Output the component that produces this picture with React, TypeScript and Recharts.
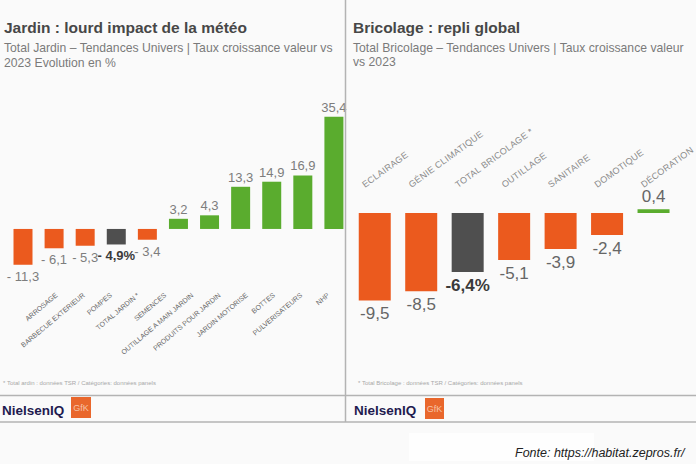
import React from 'react';
import { BarChart, Bar, XAxis, YAxis, Cell, LabelList } from 'recharts';

const jardinCategories = [
  'ARROSAGE',
  'BARBECUE EXTERIEUR',
  'POMPES',
  'TOTAL JARDIN *',
  'SEMENCES',
  'OUTILLAGE A MAIN JARDIN',
  'PRODUITS POUR JARDIN',
  'JARDIN MOTORISE',
  'BOTTES',
  'PULVERISATEURS',
  'NHP',
];
const jardinValues = [-11.3, -6.1, -5.3, -4.9, -3.4, 3.2, 4.3, 13.3, 14.9, 16.9, 35.4];

const bricoCategories = [
  'ECLAIRAGE',
  'GÉNIE CLIMATIQUE',
  'TOTAL BRICOLAGE *',
  'OUTILLAGE',
  'SANITAIRE',
  'DOMOTIQUE',
  'DÉCORATION',
];
const bricoValues = [-9.5, -8.5, -6.4, -5.1, -3.9, -2.4, 0.4];

const jardinDomain = [-18, 38];
const bricoDomain = [-12, 2.5];

const ORANGE = '#EB5A1E';
const GREEN = '#5AAC2E';
const GRAY = '#4F4F4F';
const FONT = '"Liberation Sans", Arial, sans-serif';

const jardinData = jardinCategories.map((name, i) => ({
  name,
  value: jardinValues[i],
  total: name.startsWith('TOTAL'),
}));
const bricoData = bricoCategories.map((name, i) => ({
  name,
  value: bricoValues[i],
  total: name.startsWith('TOTAL'),
}));

const colorOf = (d: { value: number; total: boolean }) =>
  d.total ? GRAY : d.value < 0 ? ORANGE : GREEN;

const fmt = (v: number, spaced: boolean) =>
  (v < 0 ? (spaced ? '- ' : '-') : '') + Math.abs(v).toFixed(1).replace('.', ',');

const makeValueLabel =
  (data: any[], opts: { spaced: boolean; size: number; color: string; up: number; down: number }) =>
  (props: any) => {
    const vb = props.viewBox && props.viewBox.width !== undefined ? props.viewBox : props;
    const x = Number(vb.x);
    const y = Number(vb.y);
    const w = Number(vb.width);
    const h = Number(vb.height);
    const top = Math.min(y, y + h);
    const bottom = Math.max(y, y + h);
    const idx = props.index;
    const v = Number(props.value);
    const d = data[idx] || data.find((e) => e.value === v) || { total: false };
    const neg = v < 0;
    const txt = fmt(v, opts.spaced) + (d.total ? '%' : '');
    return (
      <text
        x={x + w / 2}
        y={neg ? bottom + opts.down : top - opts.up}
        textAnchor="middle"
        fontSize={opts.size}
        fontFamily={FONT}
        fontWeight={d.total ? 'bold' : 'normal'}
        fill={d.total ? '#3a3a3a' : opts.color}
      >
        {txt}
      </text>
    );
  };

const JardinTick = (props: any) => {
  const { x, y, payload } = props;
  return (
    <g transform={`translate(${x},${y - 20}) rotate(-40)`}>
      <text textAnchor="end" fontSize={7} fontFamily={FONT} fill="#6a6a6a">
        {payload.value}
      </text>
    </g>
  );
};

const BricoTick = (props: any) => {
  const { x, y, payload } = props;
  return (
    <g transform={`translate(${x - 10},${y - 2}) rotate(-36)`}>
      <text
        textAnchor="start"
        fontSize={9}
        letterSpacing={0.3}
        fontFamily={FONT}
        fill="#8a8a8a"
      >
        {payload.value}
      </text>
    </g>
  );
};

export default function App() {
  return (
    <div
      style={{
        position: 'absolute',
        left: 0,
        top: 0,
        width: 696,
        height: 464,
        background: '#fafafa',
        overflow: 'hidden',
        fontFamily: FONT,
      }}
    >
      <svg width={696} height={464} style={{ position: 'absolute', left: 0, top: 0 }}>
        <rect x={409} y={433} width={185} height={28} fill="#fefefe" />
      </svg>

      <div style={{ position: 'absolute', left: 0, top: 0 }}>
        <BarChart
          width={352}
          height={390}
          data={jardinData}
          margin={{ top: 108.5, right: 2.5, left: 7.5, bottom: 30 }}
        >
          <XAxis xAxisId="bars" dataKey="name" hide />
          <XAxis
            xAxisId="labels"
            dataKey="name"
            height={74}
            interval={0}
            tickLine={false}
            axisLine={false}
            tickSize={0}
            tickMargin={0}
            padding={{ left: 37, right: 6 }}
            tick={<JardinTick />}
          />
          <YAxis hide type="number" domain={jardinDomain} />
          <Bar xAxisId="bars" dataKey="value" barSize={19} isAnimationActive={false}>
            {jardinData.map((d, i) => (
              <Cell key={i} fill={colorOf(d)} />
            ))}
            <LabelList
              dataKey="value"
              content={makeValueLabel(jardinData, {
                spaced: true,
                size: 13,
                color: '#7d7d7d',
                up: 5,
                down: 16,
              })}
            />
          </Bar>
        </BarChart>
      </div>

      <div style={{ position: 'absolute', left: 348, top: 0 }}>
        <BarChart
          width={348}
          height={340}
          data={bricoData}
          margin={{ top: 150, right: 19, left: 3.75, bottom: 16.6 }}
        >
          <XAxis
            dataKey="name"
            orientation="top"
            height={40}
            interval={0}
            tickLine={false}
            axisLine={false}
            tickSize={0}
            tickMargin={0}
            tick={<BricoTick />}
          />
          <YAxis hide type="number" domain={bricoDomain} />
          <Bar dataKey="value" barSize={32} isAnimationActive={false}>
            {bricoData.map((d, i) => (
              <Cell key={i} fill={colorOf(d)} />
            ))}
            <LabelList
              dataKey="value"
              content={makeValueLabel(bricoData, {
                spaced: false,
                size: 17,
                color: '#666666',
                up: 7,
                down: 19,
              })}
            />
          </Bar>
        </BarChart>
      </div>

      <svg
        width={696}
        height={464}
        style={{ position: 'absolute', left: 0, top: 0, pointerEvents: 'none' }}
        fontFamily={FONT}
      >
        <line x1={345.5} y1={0} x2={345.5} y2={422} stroke="#b3b3b3" strokeWidth={1.5} />
        <line x1={0} y1={395.5} x2={696} y2={395.5} stroke="#b3b3b3" strokeWidth={1.5} />
        <line x1={0} y1={422} x2={696} y2={422} stroke="#b3b3b3" strokeWidth={1.5} />

        <text x={4} y={33.3} fontSize={15.5} fontWeight="bold" fill="#474747">
          Jardin : lourd impact de la météo
        </text>
        <text x={4} y={51.7} fontSize={12.2} fill="#7a7a7a">
          Total Jardin – Tendances Univers | Taux croissance valeur vs
        </text>
        <text x={4} y={66.7} fontSize={12.2} fill="#7a7a7a">
          2023 Evolution en %
        </text>

        <text x={353} y={32.5} fontSize={15.5} fontWeight="bold" fill="#474747">
          Bricolage : repli global
        </text>
        <text x={353} y={51.7} fontSize={12.2} fill="#7a7a7a">
          Total Bricolage – Tendances Univers | Taux croissance valeur
        </text>
        <text x={353} y={66} fontSize={12.2} fill="#7a7a7a">
          vs 2023
        </text>

        <text x={3} y={385} fontSize={6} fill="#a8a8a8">
          * Total ardin : données TSR / Catégories: données panels
        </text>
        <text x={358} y={385} fontSize={6} fill="#a8a8a8">
          * Total Bricolage : données TSR / Catégories: données panels
        </text>

        <text x={2} y={415} fontSize={13.5} fontWeight="bold" fill="#1f1b4f">
          NielsenIQ
        </text>
        <rect x={71} y={397} width={20} height={21} fill="#E9672C" />
        <text x={81} y={411} fontSize={9} textAnchor="middle" fill="#f6c2a6">
          GfK
        </text>

        <text x={354} y={415} fontSize={13.5} fontWeight="bold" fill="#1f1b4f">
          NielsenIQ
        </text>
        <rect x={425} y={398} width={19} height={21} fill="#E9672C" />
        <text x={434.5} y={412} fontSize={9} textAnchor="middle" fill="#f6c2a6">
          GfK
        </text>

        <text x={515} y={457} fontSize={12.5} fontStyle="italic" fill="#222222">
          Fonte: https://habitat.zepros.fr/
        </text>
      </svg>
    </div>
  );
}
